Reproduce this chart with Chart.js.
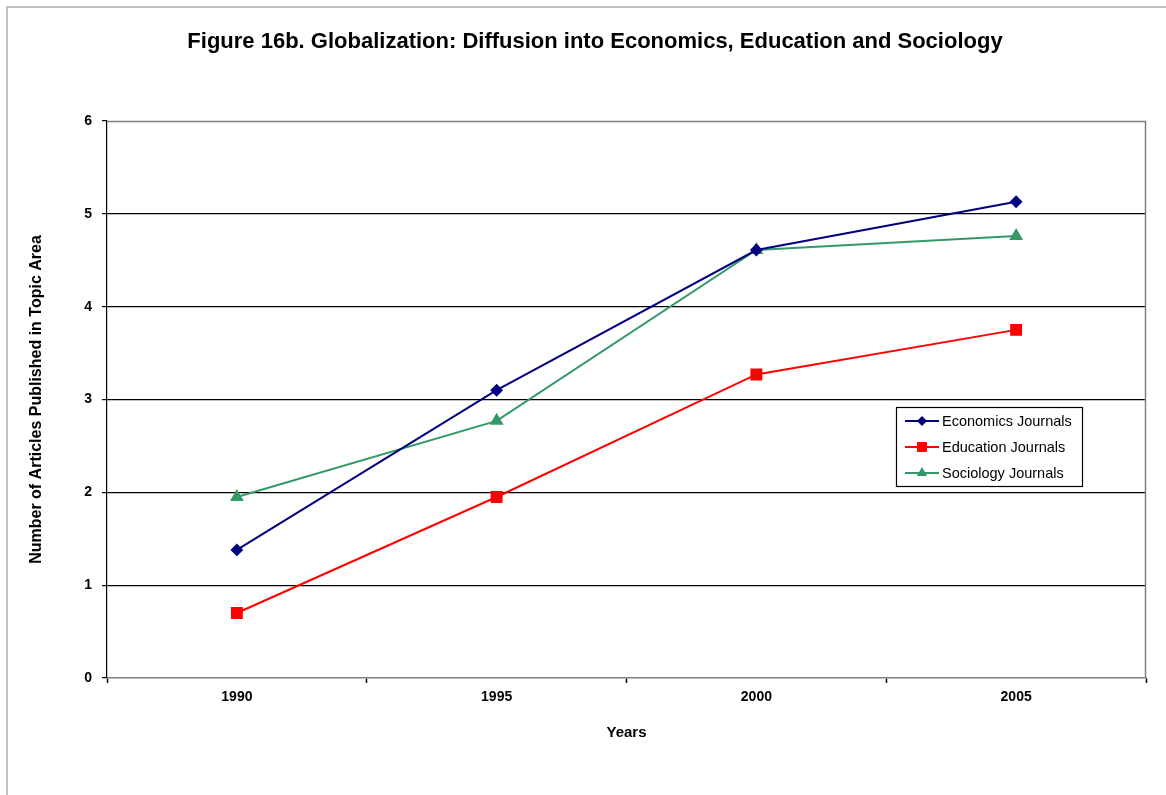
<!DOCTYPE html>
<html>
<head>
<meta charset="utf-8">
<script src="https://cdn.jsdelivr.net/npm/chart.js@4/dist/chart.umd.min.js"></script>
<style>
  html, body { margin: 0; padding: 0; background: #fff; }
  #wrap { position: relative; width: 1166px; height: 795px; overflow: hidden; }
  #frame { position: absolute; left: 6px; top: 6px; width: 1300px; height: 900px;
           border-top: 2px solid #c0c0c0; border-left: 2px solid #c0c0c0; box-sizing: border-box; }
  canvas { position: absolute; left: 0; top: 0; }
</style>
</head>
<body>
<div id="wrap">
  <div id="frame"></div>
  <canvas id="c" width="1166" height="795"></canvas>
</div>
<script>
const titleText = 'Figure 16b. Globalization: Diffusion into Economics, Education and Sociology';
const years = ['1990', '1995', '2000', '2005'];
const economics = [1.38, 3.10, 4.61, 5.13];
const education = [0.70, 1.95, 3.27, 3.75];
const sociology = [1.95, 2.77, 4.61, 4.76];
const seriesNames = ['Economics Journals', 'Education Journals', 'Sociology Journals'];
const yTitle = 'Number of Articles Published in Topic Area';
const xTitle = 'Years';

const FONT = '"Liberation Sans", Arial, sans-serif';

const plotFrame = {
  id: 'plotFrame',
  beforeDatasetsDraw(chart) {
    const a = chart.chartArea, ctx = chart.ctx;
    ctx.save();
    ctx.strokeStyle = '#808080';
    ctx.lineWidth = 1.5;
    ctx.beginPath();
    ctx.moveTo(a.left, a.top + 0.5);
    ctx.lineTo(a.right - 0.5, a.top + 0.5);
    ctx.lineTo(a.right - 0.5, a.bottom);
    ctx.stroke();
    ctx.restore();
  }
};

const topTitle = {
  id: 'topTitle',
  afterDraw(chart) {
    const ctx = chart.ctx;
    ctx.save();
    ctx.font = 'bold 22px ' + FONT;
    ctx.fillStyle = '#000';
    ctx.textAlign = 'center';
    ctx.textBaseline = 'middle';
    ctx.fillText(titleText, 595, 42);
    ctx.restore();
  }
};

function drawMarker(ctx, style, x, y, r, color) {
  ctx.fillStyle = color;
  ctx.beginPath();
  if (style === 'rectRot') {
    ctx.moveTo(x, y - r); ctx.lineTo(x + r, y); ctx.lineTo(x, y + r); ctx.lineTo(x - r, y);
  } else if (style === 'rect') {
    const s = Math.SQRT1_2 * r;
    ctx.rect(x - s, y - s, 2 * s, 2 * s);
  } else if (style === 'triangle') {
    ctx.moveTo(x, y - r);
    ctx.lineTo(x + r * Math.sin(Math.PI / 3), y + r * 0.5);
    ctx.lineTo(x - r * Math.sin(Math.PI / 3), y + r * 0.5);
  }
  ctx.closePath();
  ctx.fill();
}

const boxLegend = {
  id: 'boxLegend',
  afterDraw(chart) {
    const ctx = chart.ctx;
    const a = chart.chartArea;
    const bx = a.left + 789, by = a.top + 286, bw = 186, bh = 79;
    ctx.save();
    ctx.fillStyle = '#fff';
    ctx.fillRect(bx, by, bw, bh);
    ctx.strokeStyle = '#000';
    ctx.lineWidth = 1.2;
    ctx.strokeRect(bx + 0.5, by + 0.5, bw, bh);
    ctx.font = '14.5px ' + FONT;
    ctx.textBaseline = 'middle';
    chart.data.datasets.forEach((ds, i) => {
      const cy = by + 14 + i * 26;
      ctx.strokeStyle = ds.borderColor;
      ctx.lineWidth = 2;
      ctx.beginPath();
      ctx.moveTo(bx + 9, cy);
      ctx.lineTo(bx + 43, cy);
      ctx.stroke();
      drawMarker(ctx, ds.pointStyle, bx + 26, cy, ds.pointRadius, ds.borderColor);
      ctx.fillStyle = '#000';
      ctx.fillText(ds.label, bx + 46, cy + 1);
    });
    ctx.restore();
  }
};

new Chart(document.getElementById('c'), {
  type: 'line',
  data: {
    labels: years,
    datasets: [
      { label: seriesNames[0], data: economics, borderColor: '#000080', backgroundColor: '#000080',
        pointStyle: 'rectRot', pointRadius: 5, borderWidth: 2 },
      { label: seriesNames[1], data: education, borderColor: '#ff0000', backgroundColor: '#ff0000',
        pointStyle: 'rect', pointRadius: 7, borderWidth: 2 },
      { label: seriesNames[2], data: sociology, borderColor: '#339966', backgroundColor: '#339966',
        pointStyle: 'triangle', pointRadius: 6, borderWidth: 2 }
    ]
  },
  options: {
    responsive: false,
    animation: false,
    devicePixelRatio: 1,
    layout: { padding: { top: 121, left: 0, right: 20, bottom: 0 } },
    plugins: {
      legend: { display: false },
      tooltip: { enabled: false },
      title: { display: false }
    },
    scales: {
      x: {
        offset: true,
        afterFit(s) { s.height = 117; },
        grid: { drawOnChartArea: false, drawTicks: true, tickLength: 5, offset: true, tickColor: '#000', tickWidth: 1.5 },
        border: { color: '#808080', width: 1.5 },
        ticks: { color: '#000', font: { family: FONT, size: 14, weight: 'bold' }, padding: 6 },
        title: { display: true, text: xTitle, color: '#000', font: { family: FONT, size: 15, weight: 'bold' },
                 padding: { top: 0, bottom: 53 } }
      },
      y: {
        min: 0, max: 6,
        afterFit(s) { s.width = 107; },
        ticks: { stepSize: 1, color: '#000', font: { family: FONT, size: 14, weight: 'bold' }, padding: 10 },
        grid: {
          color: (c) => (c.tick && (c.tick.value === 0 || c.tick.value === 6)) ? 'rgba(0,0,0,0)' : '#000',
          tickColor: '#000',
          lineWidth: 1.2,
          tickLength: 5
        },
        border: { color: '#000', width: 1.2 },
        title: { display: true, text: yTitle, color: '#000', font: { family: FONT, size: 16, weight: 'bold' },
                 padding: { top: 27, bottom: 0 } }
      }
    }
  },
  plugins: [plotFrame, boxLegend, topTitle]
});
</script>
</body>
</html>
